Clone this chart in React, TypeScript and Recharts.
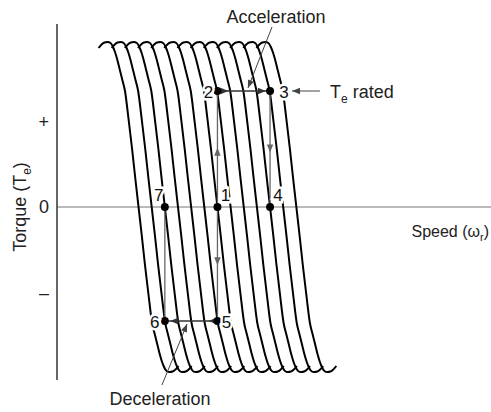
import { ComposedChart, Line, Scatter, XAxis, YAxis, ReferenceLine } from 'recharts';

// synchronous speeds of the curve family (one curve per stator frequency)
const syncSpeeds = [6.2, 7.2, 8.2, 9.2, 10.2, 11.2, 12.2, 13.2, 14.2, 15.2, 16.2, 17.2, 18.2];

// shape of one torque-speed curve, speed measured from its synchronous speed
const curveOffset = [
  -3.04, -2.81, -2.59, -2.36, -2.13, -1.94, -1.79, -1.63, -1.44, -1.25, -1.03, -0.76, -0.49, -0.25, 0,
  0.25, 0.49, 0.76, 1.03, 1.25, 1.44, 1.63, 1.79, 1.94, 2.13, 2.36, 2.59, 2.81, 3.04,
];
const curveTorque = [
  1.59, 1.625, 1.645, 1.65, 1.64, 1.6, 1.55, 1.48, 1.38, 1.28, 1.16, 0.88, 0.58, 0.29, 0,
  -0.29, -0.58, -0.88, -1.16, -1.28, -1.38, -1.48, -1.55, -1.6, -1.64, -1.65, -1.645, -1.625, -1.59,
];

// operating points of the accel / decel cycle
const pointNames = ['1', '2', '3', '4', '5', '6', '7'];
const pointSpeed = [12.2, 12.2, 16.2, 16.2, 12.2, 8.2, 8.2];
const pointTorque = [0, 1.16, 1.16, 0, -1.14, -1.14, 0];

const yTicks = [0.85, 0, -0.86];
const yTickLabels = ['+', '0', '–'];

const labelOffset: Record<string, [number, number]> = {
  '1': [8, -12],
  '2': [-9, 1],
  '3': [14, 1],
  '4': [8, -12],
  '5': [9, 1],
  '6': [-10, 1],
  '7': [-6, -12],
};

const curves = syncSpeeds.map((s) =>
  curveOffset.map((d, i) => ({ speed: s + d, torque: curveTorque[i] }))
);
const points = pointNames.map((name, i) => ({ name, speed: pointSpeed[i], torque: pointTorque[i] }));

type Seg = { from: [number, number]; to: [number, number]; heads: number[]; color: string; width: number };

const segments: Seg[] = [
  { from: [12.2, 0], to: [12.2, 1.16], heads: [0.51], color: '#666', width: 1.3 },
  { from: [12.2, 1.16], to: [16.2, 1.16], heads: [0.21, 0.92], color: '#333', width: 1.5 },
  { from: [16.2, 1.16], to: [16.2, 0], heads: [0.53], color: '#666', width: 1.3 },
  { from: [12.2, 0], to: [12.2, -1.14], heads: [0.51], color: '#666', width: 1.3 },
  { from: [12.2, -1.14], to: [8.2, -1.14], heads: [0.17, 0.9], color: '#333', width: 1.5 },
  { from: [8.2, -1.14], to: [8.2, 0], heads: [], color: '#666', width: 1.3 },
  // pointers for the annotations
  { from: [16.35, 1.8], to: [14.52, 1.19], heads: [1], color: '#444', width: 1 },
  { from: [7.98, -1.78], to: [9.89, -1.17], heads: [1], color: '#444', width: 1 },
  { from: [19.99, 1.16], to: [17.87, 1.16], heads: [1], color: '#444', width: 1 },
];

const font = '"Liberation Sans", Arial, Helvetica, sans-serif';

function arrowShape(heads: number[], color: string, width: number) {
  return (p: any) => {
    const x1 = Number(p.x1), y1 = Number(p.y1), x2 = Number(p.x2), y2 = Number(p.y2);
    const dx = x2 - x1;
    const dy = y2 - y1;
    const len = Math.hypot(dx, dy) || 1;
    const ux = dx / len;
    const uy = dy / len;
    const L = 8;
    const W = 3.2;
    return (
      <g>
        <line x1={x1} y1={y1} x2={x2} y2={y2} stroke={color} strokeWidth={width} />
        {heads.map((f, i) => {
          const tx = x1 + dx * f;
          const ty = y1 + dy * f;
          const bx = tx - ux * L;
          const by = ty - uy * L;
          const pts = `${tx},${ty} ${bx - uy * W},${by + ux * W} ${bx + uy * W},${by - ux * W}`;
          return <polygon key={i} points={pts} fill={color} />;
        })}
      </g>
    );
  };
}

function PointShape(props: any) {
  const { cx, cy, payload } = props;
  const [dx, dy] = labelOffset[payload.name];
  return (
    <g>
      <circle cx={cx} cy={cy} r={4} fill="#000" />
      <text
        x={cx + dx}
        y={cy + dy}
        textAnchor="middle"
        dominantBaseline="central"
        fontFamily={font}
        fontSize={17}
        fill="#111"
        stroke="#fff"
        strokeWidth={5}
        paintOrder="stroke"
      >
        {payload.name}
      </text>
    </g>
  );
}

export default function App() {
  return (
    <div style={{ position: 'absolute', left: 0, top: 0, width: 491, height: 412, background: '#fff' }}>
      <ComposedChart width={491} height={412} margin={{ top: 24, right: 0, bottom: 32, left: 0 }}>
        <XAxis dataKey="speed" type="number" domain={[0, 33]} allowDataOverflow hide />
        <YAxis
          type="number"
          domain={[-1.73, 1.83]}
          allowDataOverflow
          width={57}
          ticks={yTicks}
          tickFormatter={(v: number) => yTickLabels[yTicks.indexOf(v)]}
          tickLine={false}
          axisLine={{ stroke: '#333', strokeWidth: 1.5 }}
          tick={{ fontSize: 18, fill: '#222', fontFamily: font }}
        />
        <ReferenceLine y={0} stroke="#777" strokeWidth={1.2} />
        {curves.map((c, i) => (
          <Line
            key={i}
            data={c}
            dataKey="torque"
            type="monotone"
            stroke="#000"
            strokeWidth={2}
            dot={false}
            activeDot={false}
            isAnimationActive={false}
          />
        ))}
        {segments.map((s, i) => (
          <ReferenceLine
            key={'s' + i}
            segment={[
              { x: s.from[0], y: s.from[1] },
              { x: s.to[0], y: s.to[1] },
            ]}
            ifOverflow="visible"
            shape={arrowShape(s.heads, s.color, s.width)}
          />
        ))}
        <Scatter data={points} dataKey="torque" shape={PointShape} isAnimationActive={false} />
      </ComposedChart>
      <svg
        width={491}
        height={412}
        style={{ position: 'absolute', left: 0, top: 0, pointerEvents: 'none' }}
        fontFamily={font}
        fill="#222"
      >
        <text x={276} y={23} fontSize={18} textAnchor="middle">
          Acceleration
        </text>
        <text x={330} y={98} fontSize={18}>
          T<tspan fontSize={12} dy={5}>e</tspan>
          <tspan dy={-5}> rated</tspan>
        </text>
        <text x={489} y={237} fontSize={16} textAnchor="end">
          Speed (ω<tspan fontSize={11} dy={4}>r</tspan>
          <tspan dy={-4}>)</tspan>
        </text>
        <text x={160} y={405} fontSize={18} textAnchor="middle">
          Deceleration
        </text>
        <text transform="translate(26,207) rotate(-90)" fontSize={18} textAnchor="middle">
          Torque (T<tspan fontSize={12} dy={5}>e</tspan>
          <tspan dy={-5}>)</tspan>
        </text>
      </svg>
    </div>
  );
}
